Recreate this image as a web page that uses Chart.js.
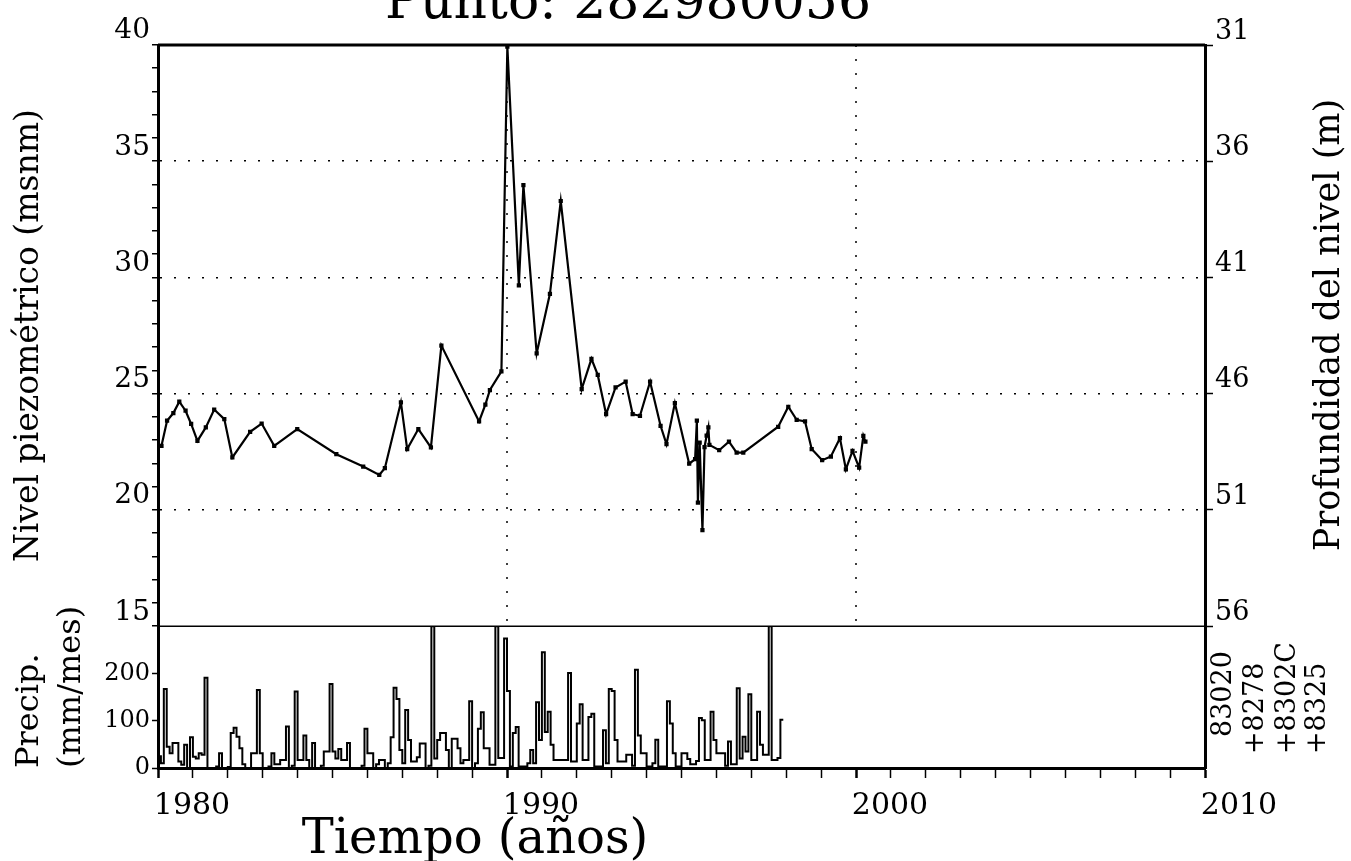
<!DOCTYPE html>
<html lang="es">
<head>
<meta charset="utf-8">
<title>Punto: 282980056</title>
<script src="https://cdn.jsdelivr.net/npm/chart.js@4.4.0/dist/chart.umd.min.js"></script>
<style>
  html, body { margin: 0; padding: 0; background: #fff; }
  #caja { width: 1351px; height: 861px; position: relative; }
</style>
</head>
<body>
<div id="caja"><canvas id="grafico"></canvas></div>
<script>
const tituloPunto = 'Punto: 282980056';

// nivel piezometrico (msnm), fechas en años decimales
const fechasNivel = [
  1980.10, 1980.26, 1980.44, 1980.61, 1980.79, 1980.95, 1981.13, 1981.37, 1981.61, 1981.90,
  1982.13, 1982.64, 1982.97, 1983.33, 1983.99, 1985.11, 1985.88, 1986.34, 1986.50, 1986.96,
  1987.14, 1987.46, 1987.82, 1988.12, 1989.20, 1989.38, 1989.51, 1989.84, 1990.01, 1990.34,
  1990.47, 1990.85, 1991.23, 1991.54, 1992.14, 1992.42, 1992.60, 1992.84, 1993.11, 1993.40,
  1993.60, 1993.81, 1994.10, 1994.40, 1994.57, 1994.81, 1995.22, 1995.39, 1995.44, 1995.47,
  1995.52, 1995.60, 1995.66, 1995.72, 1995.77, 1995.80, 1996.08, 1996.36, 1996.58, 1996.77,
  1997.77, 1998.06, 1998.30, 1998.54, 1998.73, 1999.03, 1999.28, 1999.54, 1999.71, 1999.90,
  2000.09, 2000.21, 2000.27
];
const nivelMsnm = [
  22.76, 23.84, 24.17, 24.66, 24.27, 23.70, 22.97, 23.55, 24.32, 23.91,
  22.26, 23.36, 23.72, 22.76, 23.48, 22.40, 21.87, 21.51, 21.80, 24.63,
  22.62, 23.48, 22.69, 27.07, 23.81, 24.53, 25.16, 25.96, 39.93, 29.66,
  33.97, 26.74, 29.30, 33.29, 25.20, 26.50, 25.81, 24.12, 25.27, 25.52,
  24.12, 24.05, 25.52, 23.62, 22.83, 24.60, 21.99, 22.19, 23.84, 20.32,
  22.90, 19.13, 22.70, 23.20, 23.55, 22.80, 22.57, 22.94, 22.47, 22.47,
  23.58, 24.44, 23.88, 23.81, 22.62, 22.14, 22.30, 23.09, 21.75, 22.54,
  21.82, 23.19, 22.94
];

// precipitacion mensual (mm/mes) desde enero de 1980, una fila por año
const anioInicioPrecip = 1980;
const precipMensual = [
  30, 25, 10, 167, 45, 31, 53, 53, 14, 7, 49, 0,        // 1980
  65, 24, 20, 31, 28, 191, 0, 0, 0, 3, 31, 0,           // 1981
  0, 2, 74, 85, 66, 42, 8, 0, 0, 31, 31, 165,           // 1982
  31, 0, 0, 3, 31, 8, 8, 17, 17, 88, 0, 5,              // 1983
  162, 17, 17, 69, 17, 0, 53, 0, 0, 5, 35, 35,          // 1984
  178, 35, 20, 40, 17, 17, 53, 0, 0, 0, 0, 5,           // 1985
  83, 31, 31, 0, 8, 17, 17, 0, 10, 65, 170, 146,        // 1986
  38, 10, 123, 59, 14, 14, 23, 52, 52, 0, 5, 300,       // 1987
  20, 59, 74, 74, 38, 0, 62, 62, 42, 10, 17, 17,        // 1988
  141, 0, 10, 83, 118, 42, 42, 7, 7, 300, 21, 21,       // 1989
  274, 163, 3, 74, 87, 3, 3, 3, 10, 38, 10, 139,        // 1990
  59, 245, 76, 119, 49, 17, 17, 17, 17, 17, 201, 14,    // 1991
  14, 94, 135, 17, 17, 108, 115, 3, 3, 3, 80, 10,       // 1992
  167, 163, 59, 14, 14, 14, 28, 28, 5, 208, 69, 31,     // 1993
  31, 3, 3, 10, 60, 3, 3, 3, 141, 94, 31, 3,            // 1994
  3, 31, 31, 19, 8, 8, 15, 106, 101, 17, 17, 119,       // 1995
  59, 31, 31, 31, 5, 56, 8, 8, 169, 20, 66, 35,         // 1996
  156, 17, 17, 119, 49, 28, 28, 300, 17, 17, 21, 102    // 1997
];

// etiquetas de los ejes
const ticksAnios = [1980, 1990, 2000, 2010];
const ticksNivel = [15, 20, 25, 30, 35, 40];
const lineasNivel = [20, 25, 30, 35];
const lineasAnios = [1990, 2000];
const ticksProfundidad = [31, 36, 41, 46, 51, 56];
const ticksPrecip = [0, 100, 200];
const estaciones = ['83020', '+8278', '+8302C', '+8325'];

const fuente = '"DejaVu Serif", serif';
Chart.defaults.color = '#000';
Chart.defaults.font.family = fuente;

const puntosNivel = [];
for (let i = 0; i < fechasNivel.length; i++) {
  puntosNivel.push({ x: fechasNivel[i], y: nivelMsnm[i] });
}
const puntosPrecip = [];
for (let i = 0; i < precipMensual.length; i++) {
  puntosPrecip.push({ x: anioInicioPrecip + i / 12, y: precipMensual[i] });
}

// lineas punteadas verticales solo en el panel del nivel
const rejillaAnios = {
  id: 'rejillaAnios',
  beforeDatasetsDraw(chart) {
    const { ctx } = chart;
    const ejeX = chart.scales.x;
    const ejeY = chart.scales.y;
    ctx.save();
    ctx.strokeStyle = '#000';
    ctx.lineWidth = 1.5;
    ctx.setLineDash([2, 12]);
    lineasAnios.forEach((a) => {
      const px = ejeX.getPixelForValue(a);
      ctx.beginPath();
      ctx.moveTo(px, ejeY.top);
      ctx.lineTo(px, ejeY.bottom);
      ctx.stroke();
    });
    ctx.restore();
  }
};

// textos sueltos y marco superior
const textosExtra = {
  id: 'textosExtra',
  afterDraw(chart) {
    const { ctx, chartArea } = chart;
    const yDiv = chart.scales.y.bottom;
    ctx.save();
    ctx.fillStyle = '#000';
    ctx.strokeStyle = '#000';

    ctx.lineWidth = 3;
    ctx.beginPath();
    ctx.moveTo(chartArea.left, chartArea.top);
    ctx.lineTo(chartArea.right, chartArea.top);
    ctx.stroke();
    ctx.lineWidth = 1.5;
    ctx.beginPath();
    ctx.moveTo(chartArea.left, yDiv);
    ctx.lineTo(chartArea.right, yDiv);
    ctx.stroke();

    ctx.textAlign = 'center';
    ctx.textBaseline = 'alphabetic';
    ctx.font = '52px ' + fuente;
    ctx.fillText(tituloPunto, 628, 18);
    ctx.font = '48px ' + fuente;
    ctx.fillText('Tiempo (años)', chartArea.left + 317, 853);

    // eje derecho: se lee de abajo hacia arriba
    ctx.save();
    ctx.translate(chartArea.right + 125, chartArea.top + 280);
    ctx.rotate(-Math.PI / 2);
    ctx.font = '35px ' + fuente;
    ctx.textBaseline = 'middle';
    ctx.fillText('Profundidad del nivel (m)', 0, 0);
    ctx.restore();

    // estaciones de precipitacion
    const dx = [19, 51, 83, 113];
    const dy = [31, 14, 14, 14];
    ctx.font = '27px ' + fuente;
    for (let i = 0; i < estaciones.length; i++) {
      ctx.save();
      ctx.translate(chartArea.right + dx[i], chartArea.bottom - dy[i]);
      ctx.rotate(-Math.PI / 2);
      ctx.textAlign = 'left';
      ctx.textBaseline = 'middle';
      ctx.fillText(estaciones[i], 0, 0);
      ctx.restore();
    }
    ctx.restore();
  }
};

const config = {
  type: 'line',
  data: {
    datasets: [
      {
        label: 'Nivel',
        data: puntosNivel,
        xAxisID: 'x',
        yAxisID: 'y',
        borderColor: '#000',
        borderWidth: 2.2,
        pointStyle: 'rect',
        pointRadius: 3,
        pointBackgroundColor: '#000',
        pointBorderWidth: 0,
        tension: 0
      },
      {
        label: 'Precipitación',
        data: puntosPrecip,
        xAxisID: 'x',
        yAxisID: 'yp',
        stepped: 'after',
        borderColor: '#000',
        borderWidth: 2,
        pointRadius: 0
      }
    ]
  },
  options: {
    responsive: true,
    maintainAspectRatio: false,
    animation: false,
    layout: { padding: { top: 45, left: 0, right: 0, bottom: 0 } },
    plugins: {
      legend: { display: false },
      tooltip: { enabled: false }
    },
    scales: {
      x: {
        type: 'linear',
        position: 'bottom',
        min: 1980,
        max: 2010,
        afterFit: (s) => { s.height = 93; },
        ticks: {
          stepSize: 1,
          autoSkip: false,
          maxRotation: 0,
          labelOffset: 34,
          padding: 10,
          font: { size: 30 },
          callback: (v) => ticksAnios.includes(v) ? String(v) : ''
        },
        grid: {
          drawOnChartArea: false,
          tickColor: '#000',
          tickLength: 10,
          tickWidth: (c) => (c.tick && c.tick.value % 10 === 0) ? 2.5 : 1.5
        },
        border: { color: '#000', width: 3 }
      },
      y: {
        type: 'linear',
        position: 'left',
        stack: 'izq',
        stackWeight: 4.1,
        weight: 1,
        min: 15,
        max: 40,
        afterFit: (s) => { s.width = 158; },
        ticks: {
          stepSize: 1,
          autoSkip: false,
          align: 'end',
          padding: 2,
          font: { size: 28 },
          callback: (v) => ticksNivel.includes(v) ? String(v) : ''
        },
        grid: {
          color: (c) => (c.tick && lineasNivel.includes(c.tick.value)) ? '#000' : 'rgba(0,0,0,0)',
          lineWidth: 1.5,
          tickColor: '#000',
          tickLength: 6,
          tickWidth: 1.5
        },
        border: { color: '#000', width: 3, dash: [2, 12] },
        title: {
          display: true,
          text: 'Nivel piezométrico (msnm)',
          font: { size: 33 },
          padding: { top: 10, bottom: 0 }
        }
      },
      yp: {
        type: 'linear',
        position: 'left',
        stack: 'izq',
        stackWeight: 1,
        weight: 0,
        min: 0,
        max: 300,
        afterFit: (s) => { s.width = 158; },
        afterBuildTicks: (s) => { s.ticks = ticksPrecip.map((v) => ({ value: v })); },
        ticks: {
          padding: 2,
          font: { size: 24 },
          callback: (v) => String(v)
        },
        grid: { drawOnChartArea: false, tickColor: '#000', tickLength: 6, tickWidth: 1.5 },
        border: { color: '#000', width: 3 },
        title: {
          display: true,
          text: ['Precip.', '(mm/mes)'],
          align: 'start',
          font: { size: 32, lineHeight: 1.3 },
          padding: { top: 9, bottom: 0 }
        }
      },
      yd: {
        type: 'linear',
        position: 'right',
        stack: 'der',
        stackWeight: 4.1,
        weight: 0,
        min: 31,
        max: 56,
        reverse: true,
        afterFit: (s) => { s.width = 146; },
        afterBuildTicks: (s) => { s.ticks = ticksProfundidad.map((v) => ({ value: v })); },
        ticks: {
          align: 'end',
          padding: 2,
          font: { size: 27 },
          callback: (v) => String(v)
        },
        grid: { drawOnChartArea: false, tickColor: '#000', tickLength: 8, tickWidth: 1.5 },
        border: { color: '#000', width: 3 }
      },
      yd2: {
        type: 'linear',
        position: 'right',
        stack: 'der',
        stackWeight: 1,
        weight: 1,
        min: 0,
        max: 1,
        afterFit: (s) => { s.width = 146; },
        ticks: { display: false },
        grid: { display: false },
        border: { color: '#000', width: 3 }
      }
    }
  },
  plugins: [rejillaAnios, textosExtra]
};

const miGrafico = new Chart(document.getElementById('grafico'), config);
</script>
</body>
</html>
